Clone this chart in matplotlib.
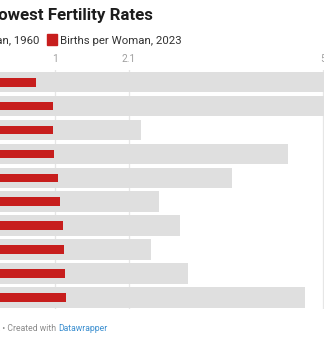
import matplotlib.pyplot as plt

plt.rcParams['font.family'] = ['Roboto', 'DejaVu Sans']

# canvas size in pixels
W, H = 324, 337

# ten countries with the lowest fertility, births per woman
rank = list(range(10))
births_1960 = [5.95, 5.40, 2.29, 4.47, 3.64, 2.55, 2.86, 2.43, 2.99, 4.72]
births_2023 = [0.72, 0.97, 0.97, 0.99, 1.05, 1.07, 1.12, 1.14, 1.15, 1.16]

ticks = [1, 2.1, 5]
tick_labels = ['1', '2.1', '5']

RED = '#c71e1d'
GREY = '#dfdfdf'


def fx(px):
    return px / W


def fy(py):
    return 1 - py / H


fig = plt.figure(figsize=(W / 100, H / 100), dpi=100)

ax = fig.add_axes([0, fy(309.3), 1, fy(70.25) - fy(309.3)])
ax.barh(rank, births_1960, height=0.86, color=GREY, zorder=2)
ax.barh(rank, births_2023, height=0.36, color=RED, zorder=3)
for t in ticks:
    ax.axvline(t, color='#e6e6e6', lw=0.9, zorder=1)

ax.set_xlim(0.182, 5.010)
ax.set_ylim(len(rank) - 0.5, -0.5)
ax.xaxis.tick_top()
ax.set_xticks(ticks)
ax.set_xticklabels(tick_labels)
ax.tick_params(axis='x', length=0, pad=4.5, labelsize=7.3, labelcolor='#a0a0a0')
ax.set_yticks([])
for s in ax.spines.values():
    s.set_visible(False)

# title
fig.text(fx(152.7), fy(20), 'Lowest Fertility Rates', ha='right', va='baseline',
         fontsize=12.2, fontweight='bold', color='#1d1d1d')

# legend
fig.text(fx(39.5), fy(44), 'Births per Woman, 1960', ha='right', va='baseline',
         fontsize=8.2, color='#333333')
fig.patches.append(plt.Rectangle((fx(47), fy(44.5)), fx(10), 10.5 / H,
                                 transform=fig.transFigure, color=RED))
fig.text(fx(60.5), fy(44), 'Births per Woman, 2023', ha='left', va='baseline',
         fontsize=8.2, color='#333333')

# footer
fig.text(fx(57.8), fy(331), 'Source: World Bank \u2022 Created with ', ha='right',
         va='baseline', fontsize=6.2, color='#8a8a8a')
fig.text(fx(58.7), fy(331), 'Datawrapper', ha='left', va='baseline',
         fontsize=6.2, color='#3b8fd0')

fig.savefig('out.png', dpi=100)
